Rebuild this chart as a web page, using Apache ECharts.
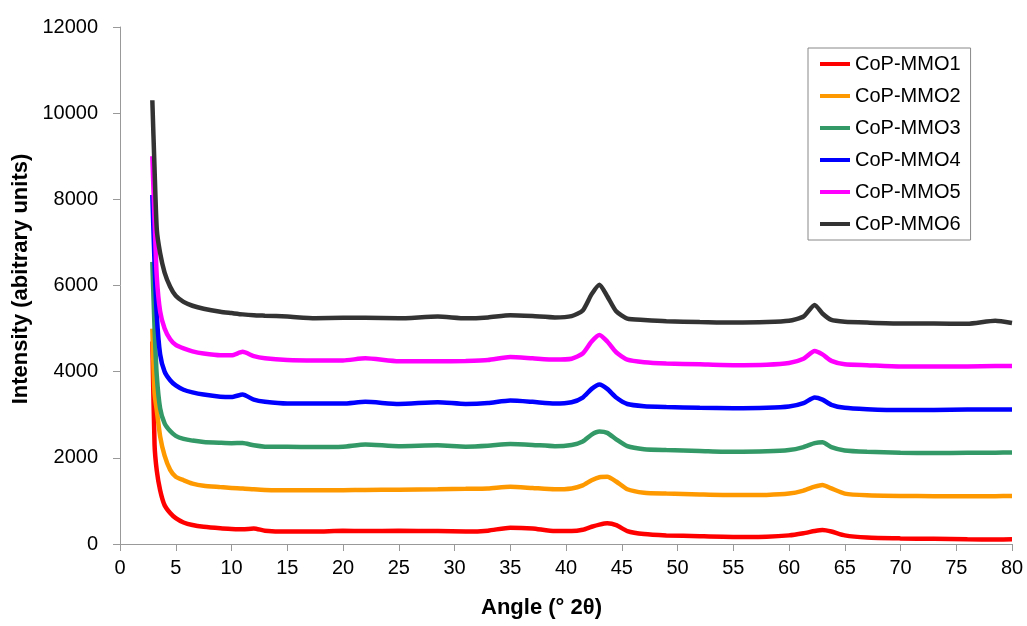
<!DOCTYPE html>
<html>
<head>
<meta charset="utf-8">
<script src="https://cdn.jsdelivr.net/npm/echarts@6/dist/echarts.min.js"></script>
<style>
html,body{margin:0;padding:0;background:#fff;}
#chart{width:1027px;height:626px;}
</style>
</head>
<body>
<div id="chart"></div>
<script>
// Angle (° 2θ)
const angles = [2.9,3.1,3.3,3.6,4,4.5,5,5.7,6.5,7.5,9,10,11,12,13,15,17.5,20,22,25,28.5,31,33,35,37,39,40.5,41.5,42.3,43,43.7,44.5,45.5,47,49,52,55,58,60,61.3,62.3,63,63.8,65,67,70,73,76,78.5,80];

const seriesNames = ['CoP-MMO1','CoP-MMO2','CoP-MMO3','CoP-MMO4','CoP-MMO5','CoP-MMO6'];

const mmo1 = [4700,2300,1700,1250,900,720,600,500,440,400,365,350,340,360,310,290,290,305,300,305,300,290,310,380,360,300,300,330,400,450,480,440,300,230,200,180,165,170,200,250,300,325,290,200,150,130,120,110,105,110];
const mmo2 = [5000,3500,3100,2500,2050,1720,1560,1480,1400,1350,1320,1300,1290,1270,1255,1245,1245,1250,1255,1260,1270,1280,1290,1330,1300,1270,1290,1360,1480,1550,1560,1450,1270,1190,1170,1150,1135,1140,1170,1240,1330,1370,1290,1170,1130,1115,1110,1110,1110,1115];
const mmo3 = [6550,5000,3900,3150,2800,2620,2510,2440,2400,2370,2350,2340,2345,2290,2260,2255,2250,2260,2310,2270,2290,2260,2280,2320,2300,2270,2300,2380,2540,2610,2580,2430,2270,2200,2180,2160,2140,2150,2180,2250,2340,2360,2250,2170,2140,2120,2110,2120,2120,2125];
const mmo4 = [8100,6500,5300,4400,4000,3800,3680,3580,3520,3470,3420,3410,3470,3350,3300,3260,3260,3260,3300,3250,3290,3250,3270,3330,3300,3260,3290,3400,3600,3700,3600,3400,3250,3200,3180,3160,3150,3160,3190,3270,3400,3350,3230,3160,3130,3110,3110,3120,3120,3120];
const mmo5 = [9000,7500,6200,5400,5000,4750,4620,4540,4470,4420,4380,4380,4460,4360,4310,4270,4260,4260,4310,4240,4240,4250,4270,4340,4310,4280,4300,4420,4700,4850,4700,4450,4280,4220,4190,4170,4150,4160,4200,4300,4480,4400,4250,4170,4150,4120,4120,4120,4130,4130];
const mmo6 = [10300,8700,7300,6750,6300,5970,5760,5620,5530,5460,5390,5360,5330,5310,5300,5280,5240,5250,5250,5240,5280,5240,5260,5310,5290,5260,5290,5420,5800,6020,5750,5400,5230,5200,5170,5150,5140,5150,5180,5280,5550,5350,5200,5160,5140,5120,5120,5110,5180,5130];

const seriesValues = [mmo1, mmo2, mmo3, mmo4, mmo5, mmo6];
const colors = ['#ff0000','#ff9900','#339966','#0000ff','#ff00ff','#333333'];

const FONT = "'Liberation Sans', Arial, sans-serif";
const chart = echarts.init(document.getElementById('chart'));

const series = seriesNames.map((name, k) => ({
  name: name,
  type: 'line',
  symbol: 'none',
  smooth: 0.2,
  data: angles.map((x, i) => [x, seriesValues[k][i]]),
  lineStyle: { color: colors[k], width: 4.5 },
  itemStyle: { color: colors[k] },
  z: 2 + k
}));

chart.setOption({
  animation: false,
  backgroundColor: '#ffffff',
  grid: { left: 120, top: 27, width: 892, height: 517, containLabel: false },
  xAxis: {
    type: 'value', min: 0, max: 80, interval: 5,
    name: 'Angle (° 2θ)', nameLocation: 'middle', nameGap: 53,
    nameTextStyle: { fontFamily: FONT, fontSize: 22, fontWeight: 'bold', color: '#000', padding: [0, 49, 0, 0] },
    axisLine: { lineStyle: { color: '#999999', width: 1 } },
    axisTick: { show: true, length: 7, lineStyle: { color: '#999999' } },
    axisLabel: { fontFamily: FONT, fontSize: 20, color: '#000', margin: 14 },
    splitLine: { show: false }
  },
  yAxis: {
    type: 'value', min: 0, max: 12000, interval: 2000,
    name: 'Intensity (abitrary units)', nameLocation: 'middle', nameGap: 86,
    nameTextStyle: { fontFamily: FONT, fontSize: 22, fontWeight: 'bold', color: '#000', padding: [0, 0, 0, 13] },
    axisLine: { show: true, lineStyle: { color: '#999999', width: 1 } },
    axisTick: { show: true, length: 7, lineStyle: { color: '#999999' } },
    axisLabel: { fontFamily: FONT, fontSize: 20, color: '#000', margin: 22, formatter: v => String(v) },
    splitLine: { show: false }
  },
  legend: {
    orient: 'vertical', left: 808, top: 48,
    data: seriesNames,
    icon: 'rect',
    itemWidth: 30, itemHeight: 4, itemGap: 10,
    padding: [5, 10, 5, 12],
    borderColor: '#888888', borderWidth: 1,
    backgroundColor: '#ffffff',
    textStyle: { fontFamily: FONT, fontSize: 20, color: '#000', lineHeight: 22 }
  },
  series: series
});
</script>
</body>
</html>
